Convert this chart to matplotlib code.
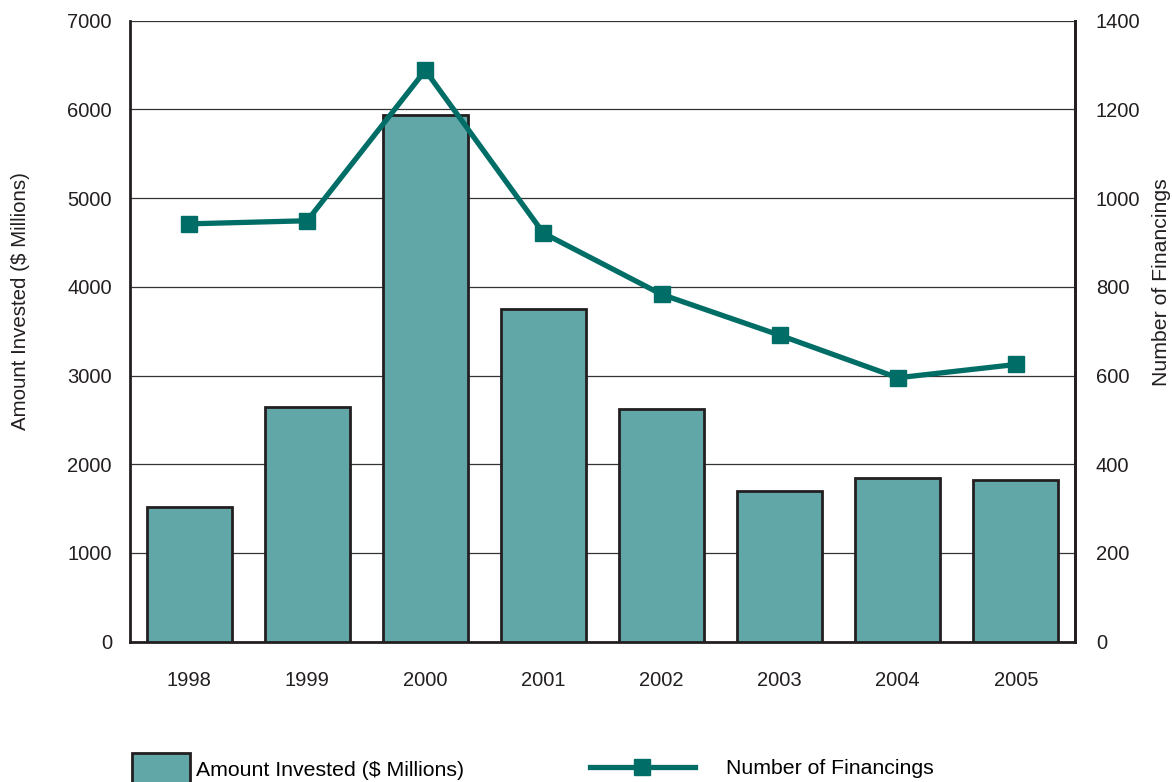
import matplotlib.pyplot as plt
from matplotlib.patches import Patch
from matplotlib.lines import Line2D

plt.rcParams['font.family'] = ['Liberation Sans', 'DejaVu Sans']

years = ["1998", "1999", "2000", "2001", "2002", "2003", "2004", "2005"]
amount = [1515, 2650, 5940, 3750, 2620, 1700, 1840, 1820]  # $ millions
financings = [942, 949, 1288, 921, 783, 691, 595, 625]

bar_color = "#62A7A7"
line_color = "#006E66"
edge = "#231F20"

fig = plt.figure(figsize=(11.72, 7.82), dpi=100)
ax = fig.add_axes([130 / 1172, 1 - 641.7 / 782, 945 / 1172, 621 / 782])

x = range(len(years))
ax.bar(x, amount, width=0.72, color=bar_color, edgecolor=edge, linewidth=2, zorder=3)
ax.set_xlim(-0.5, len(years) - 0.5)
ax.set_ylim(0, 7000)
ax.set_yticks(range(0, 7001, 1000))
ax.set_xticks(list(x))
ax.set_xticklabels(years)
ax.yaxis.grid(True, color="#333333", linewidth=0.9, zorder=0)
ax.set_axisbelow(True)
ax.tick_params(axis="y", length=0, pad=13, labelsize=14.5, colors="#231F20")
ax.tick_params(axis="x", length=0, pad=21, labelsize=14.5, colors="#231F20")
ax.set_ylabel("Amount Invested ($ Millions)", fontsize=14.8, color="#231F20")
ax.yaxis.set_label_coords(-0.106, 0.549)
for s in ["left", "right", "bottom"]:
    ax.spines[s].set_color(edge)
    ax.spines[s].set_linewidth(2)
ax.spines["top"].set_visible(False)

ax2 = ax.twinx()
ax2.plot(x, financings, color=line_color, linewidth=3.8, marker="s",
         markersize=12, markerfacecolor=line_color, markeredgecolor=line_color, zorder=5)
ax2.set_ylim(0, 1400)
ax2.set_yticks(range(0, 1401, 200))
ax2.tick_params(axis="y", length=0, pad=15, labelsize=14.5, colors="#231F20")
ax2.set_ylabel("Number of Financings", fontsize=15.3, color="#231F20")
ax2.yaxis.set_label_coords(1.081, 0.579)
for s in ["top", "left", "bottom"]:
    ax2.spines[s].set_visible(False)
ax2.spines["right"].set_color(edge)
ax2.spines["right"].set_linewidth(2)

h1 = Patch(facecolor=bar_color, edgecolor=edge, linewidth=2)
h2 = Line2D([], [], color=line_color, linewidth=3.8, marker="s", markersize=12)
fig.legend([h1], ["Amount Invested ($ Millions)"], loc="center left",
           bbox_to_anchor=(132 / 1172, 1 - 769 / 782), frameon=False, fontsize=15.3,
           handlelength=2.73, handleheight=2.0, handletextpad=0.28,
           borderpad=0, borderaxespad=0)
fig.legend([h2], ["Number of Financings"], loc="center left",
           bbox_to_anchor=(590 / 1172, 1 - 769 / 782), frameon=False, fontsize=15.3,
           handlelength=4.94, handletextpad=1.46, borderpad=0, borderaxespad=0)

fig.savefig("out.png", dpi=100)
